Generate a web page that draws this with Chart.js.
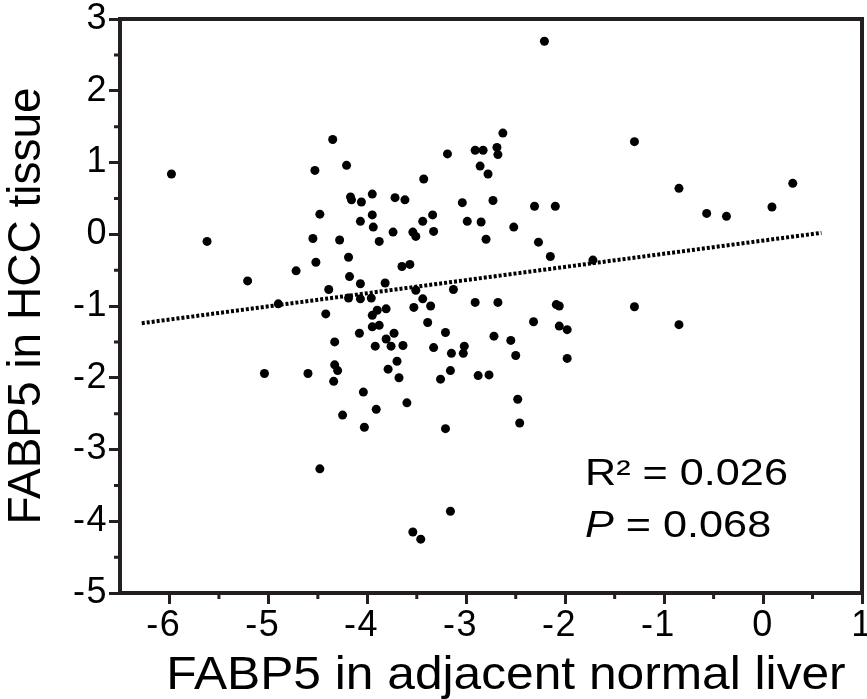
<!DOCTYPE html>
<html>
<head>
<meta charset="utf-8">
<script src="https://cdn.jsdelivr.net/npm/chart.js@4/dist/chart.umd.min.js"></script>
<style>
  html, body { margin: 0; padding: 0; background: #fff; }
  #c { display: block; }
</style>
</head>
<body>
<canvas id="c" width="867" height="699"></canvas>
<script>
// ====== DATA ======
const adjacentLiver = [
  -5.98, -5.62, -5.21, -4.90, -4.72, -4.53, -4.48, -4.55, -4.52, -4.35,
  -4.39, -4.42, -4.21, -4.28, -4.19, -4.18, -4.19, -4.17, -4.16, -4.06,
  -3.95, -4.07, -3.95, -3.94, -3.88, -4.07, -4.07, -3.96, -3.82, -3.95,
  -3.90, -3.81, -3.95, -3.88, -3.72, -3.62, -3.74, -3.54, -3.51, -3.44,
  -3.34, -3.33, -3.43, -3.19, -3.65, -3.57, -3.51, -3.44, -3.36, -3.53,
  -3.39, -3.13, -3.04, -2.99, -2.91, -2.83, -2.86, -2.78, -2.73, -2.85,
  -2.80, -2.91, -2.68, -2.69, -2.68, -2.63, -2.21, -2.52, -2.31, -2.10,
  -2.27, -2.15, -1.72, -1.30, -0.85, -0.57, -0.37, 0.09, 0.30, -2.09,
  -2.06, -1.30, -2.32, -2.06, -1.98, -0.85, -2.72, -2.55, -3.02, -3.03,
  -3.15, -2.50, -1.98, -3.16, -2.88, -2.77, -2.48, -2.46, -3.16, -4.33,
  -4.08, -3.81, -3.73, -3.92, -3.76, -3.64, -3.33, -3.21, -4.33, -4.30,
  -4.34, -5.04, -4.60, -3.70, -3.79, -3.68, -3.26, -4.04, -3.60, -3.91,
  -4.25, -4.03, -3.21, -4.48, -3.54, -3.46
];
const hccTissue = [
  0.84, -0.10, -0.65, -0.97, -0.51, 0.89, 0.28, -0.06, -0.39, 1.32,
  -0.77, -1.11, 0.96, -0.08, -0.32, -0.59, -0.89, 0.52, 0.48, 0.45,
  0.56, 0.18, 0.27, 0.10, -0.10, -0.69, -0.90, -0.89, -0.68, -1.13,
  -1.06, -1.04, -1.29, -1.27, 0.51, 0.48, 0.03, 0.03, -0.03, 0.18,
  0.27, 0.04, 0.77, 1.12, -0.45, -0.42, -0.78, -0.90, -1.00, -1.02,
  -1.23, -0.77, 0.44, 0.18, 1.17, 1.17, 0.95, 0.84, 0.47, 0.17,
  -0.07, -0.95, -0.95, 1.21, 1.11, 1.41, 2.69, 0.10, 0.39, 0.39,
  -0.11, -0.31, -0.36, 1.29, 0.64, 0.29, 0.25, 0.38, 0.71, -0.98,
  -1.00, -1.01, -1.22, -1.28, -1.33, -1.26, -1.42, -1.48, -1.56, -1.66,
  -1.66, -1.69, -1.73, -1.90, -1.97, -1.96, -2.30, -2.63, -3.86, -1.50,
  -1.38, -1.46, -1.38, -1.56, -1.56, -1.55, -1.58, -1.37, -1.82, -1.90,
  -2.05, -1.94, -1.94, -1.77, -1.88, -2.00, -2.02, -2.20, -2.35, -2.44,
  -2.52, -2.69, -2.71, -3.27, -4.15, -4.25
];
// fitted line end points
const fitX = [-6.28, 0.59];
const fitY = [-1.24, 0.02];

const xTickValues = [-6, -5, -4, -3, -2, -1, 0, 1];
const yTickValues = [-5, -4, -3, -2, -1, 0, 1, 2, 3];
const xMinorValues = [-5.5, -4.5, -3.5, -2.5, -1.5, -0.5, 0.5];
const yMinorValues = [-4.5, -3.5, -2.5, -1.5, -0.5, 0.5, 1.5, 2.5];

const xTitle = 'FABP5 in adjacent normal liver';
const yTitle = 'FABP5 in HCC tissue';
const statR2 = 'R\u00b2 = 0.026';
const statP = 'P';
const statPRest = ' = 0.068';

// ====== STYLE ======
const INK = '#231f20';
const FONT = "'Liberation Sans', Arial, sans-serif";
const AXIS_W = 4;

// ====== PLUGINS ======
// the figure's type is wider than Arial: space out the tick labels a bit
const wideTicks = {
  id: 'wideTicks',
  beforeDraw(chart) {
    ['x', 'y'].forEach(id => {
      const s = chart.scales[id];
      if (s._wide) return;
      const orig = s.drawLabels.bind(s);
      s.drawLabels = area => {
        s.ctx.save();
        s.ctx.letterSpacing = '1.5px';
        orig(area);
        s.ctx.restore();
      };
      s._wide = true;
    });
  }
};

// box round the plot plus the short half-step ticks
const frameAndMinor = {
  id: 'frameAndMinor',
  afterDraw(chart) {
    const { ctx, chartArea: a, scales } = chart;
    ctx.save();
    ctx.strokeStyle = INK;
    ctx.lineWidth = AXIS_W;
    ctx.beginPath();
    ctx.moveTo(a.left - AXIS_W / 2, a.top);
    ctx.lineTo(a.right, a.top);
    ctx.lineTo(a.right, a.bottom + AXIS_W / 2);
    ctx.stroke();

    ctx.lineWidth = 3;
    ctx.beginPath();
    xMinorValues.forEach(v => {
      const px = scales.x.getPixelForValue(v);
      ctx.moveTo(px, a.bottom);
      ctx.lineTo(px, a.bottom + 6);
    });
    yMinorValues.forEach(v => {
      const py = scales.y.getPixelForValue(v);
      ctx.moveTo(a.left, py);
      ctx.lineTo(a.left - 6, py);
    });
    ctx.stroke();
    ctx.restore();
  }
};

// x title and the R² / P text, drawn a little stretched like the figure
const extraText = {
  id: 'extraText',
  afterDraw(chart) {
    const { ctx, chartArea: a } = chart;
    ctx.save();
    ctx.fillStyle = '#000';
    ctx.textBaseline = 'alphabetic';

    // x axis title
    ctx.save();
    ctx.font = '46px ' + FONT;
    ctx.textAlign = 'center';
    ctx.translate(a.left + 386, 689);
    ctx.scale(1.08, 1);
    ctx.fillText(xTitle, 0, 0);
    ctx.restore();

    // statistics
    const left = a.left + 465;
    ctx.textAlign = 'left';
    ctx.save();
    ctx.translate(left, a.top + 466);
    ctx.scale(1.2, 1);
    ctx.font = '36px ' + FONT;
    ctx.fillText(statR2, 0, 0);
    ctx.restore();

    ctx.save();
    ctx.translate(left, a.top + 518);
    ctx.scale(1.2, 1);
    ctx.font = 'italic 36px ' + FONT;
    ctx.fillText(statP, 0, 0);
    const w = ctx.measureText(statP).width;
    ctx.font = '36px ' + FONT;
    ctx.fillText(statPRest, w, 0);
    ctx.restore();

    ctx.restore();
  }
};

// ====== CHART ======
const points = adjacentLiver.map((x, i) => ({ x, y: hccTissue[i] }));
const fitLine = fitX.map((x, i) => ({ x, y: fitY[i] }));

const axisCommon = {
  border: { display: true, color: INK, width: AXIS_W },
  grid: {
    display: true,
    drawOnChartArea: false,
    drawTicks: true,
    tickLength: 11,
    tickWidth: 3,
    tickColor: INK
  }
};

new Chart(document.getElementById('c').getContext('2d'), {
  type: 'scatter',
  data: {
    datasets: [
      {
        data: points,
        backgroundColor: '#000',
        borderWidth: 0,
        pointRadius: 4.5,
        pointHoverRadius: 4.5
      },
      {
        type: 'line',
        data: fitLine,
        borderColor: '#000',
        borderWidth: 4,
        borderDash: [3, 2],
        pointRadius: 0,
        fill: false
      }
    ]
  },
  options: {
    responsive: false,
    animation: false,
    events: [],
    layout: { padding: { top: 19, right: 5, left: 0, bottom: 0 } },
    plugins: { legend: { display: false }, tooltip: { enabled: false } },
    scales: {
      x: {
        ...axisCommon,
        type: 'linear',
        min: -6.5,
        max: 1,
        afterBuildTicks: s => { s.ticks = xTickValues.map(v => ({ value: v })); },
        afterFit: s => { s.height = 106; s.paddingLeft = 0; s.paddingRight = 0; },
        ticks: {
          color: '#000',
          padding: 0,
          maxRotation: 0,
          // the minus hangs left of the tick, the digit sits on it
          callback: v => (v < 0 ? v + ' ' : String(v)),
          font: { family: FONT, size: 36 }
        }
      },
      y: {
        ...axisCommon,
        type: 'linear',
        min: -5,
        max: 3,
        afterBuildTicks: s => { s.ticks = yTickValues.map(v => ({ value: v })); },
        afterFit: s => { s.width = 120; s.paddingTop = 0; s.paddingBottom = 0; },
        ticks: {
          color: '#000',
          padding: 1,
          font: { family: FONT, size: 36 }
        },
        title: {
          display: true,
          text: yTitle,
          color: '#000',
          padding: { top: 0, bottom: 0 },
          font: { family: FONT, size: 46 }
        }
      }
    }
  },
  plugins: [wideTicks, frameAndMinor, extraText]
});
</script>
</body>
</html>
